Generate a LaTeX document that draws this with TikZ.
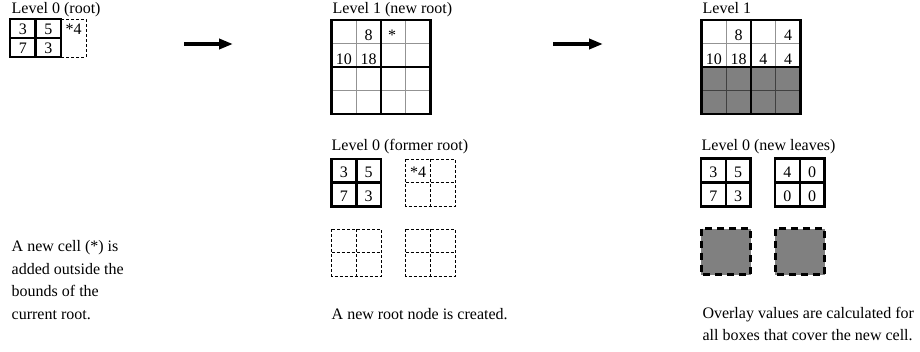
\documentclass[tikz,border=0pt]{standalone}
\usepackage{fontspec}
\setmainfont{Liberation Serif}
\usetikzlibrary{arrows.meta}
\begin{document}
\begin{tikzpicture}[x=1pt,y=-1pt,
  txt/.style={anchor=base west,inner sep=0pt,font=\fontsize{16}{18}\selectfont},
  num/.style={anchor=base,inner sep=0pt,font=\fontsize{16}{18}\selectfont},
  heavy/.style={line width=2.8pt},
  medium/.style={line width=2.3pt},
  fine/.style={line width=0.9pt,gray!85},
  finedark/.style={line width=0.9pt,black!75},
  dashcell/.style={line width=0.9pt,dash pattern=on 3pt off 2pt},
  bigdash/.style={line width=3pt,dash pattern=on 7pt off 5pt,fill=gray},
  stepto/.style={line width=4pt,-{Triangle[length=14pt,width=10pt]}}]
\useasboundingbox (0,0) rectangle (920,351);

% ---------- panel 1: level 0 root ----------
\node[txt] (t0) at (11.5,13.5) {Level 0 (root)};
\draw[dashcell] (61,19) -- (86,19) -- (86,57) -- (61,57);
\draw[heavy] (10,19) rectangle (61,57);
\draw[heavy] (35.5,19) -- (35.5,57);
\draw[heavy] (10,38) -- (61,38);
\node[num] (a1) at (22.75,34.5) {3};
\node[num] (a2) at (48.25,34.5) {5};
\node[num] (a3) at (22.75,53.5) {7};
\node[num] (a4) at (48.25,53.5) {3};
\node[num] (a5) at (73.5,34.5) {*4};

\node[txt] (c1) at (11.5,251.7) {A new cell (*) is};
\node[txt] (c2) at (11.5,274.2) {added outside the};
\node[txt] (c3) at (11.5,296.7) {bounds of the};
\node[txt] (c4) at (11.5,319.2) {current root.};

% ---------- arrows ----------
\coordinate (p1) at (184,44);
\coordinate (q1) at (233,44);
\coordinate (p2) at (553,44);
\coordinate (q2) at (603,44);
\draw[stepto] (p1) -- (q1);
\draw[stepto] (p2) -- (q2);

% ---------- panel 2: new root ----------
\node[txt] (t1) at (332.5,13.5) {Level 1 (new root)};
\foreach \x in {356.25,405.75} \draw[fine] (\x,20) -- (\x,114);
\foreach \y in {43.5,90.5} \draw[fine] (331.5,\y) -- (430.5,\y);
\draw[heavy] (331.5,20) rectangle (430.5,114);
\draw[heavy] (381,20) -- (381,114);
\draw[heavy] (331.5,67) -- (430.5,67);
\node[num] (b1) at (368.6,40.5) {8};
\node[num] (b2) at (392,40.5) {*};
\node[num] (b3) at (343.9,64) {10};
\node[num] (b4) at (368.6,64) {18};

\node[txt] (t2) at (331.5,150) {Level 0 (former root)};
\draw[heavy] (331.5,159) rectangle (381,206.5);
\draw[heavy] (356.25,159) -- (356.25,206.5);
\draw[heavy] (331.5,182.75) -- (381,182.75);
\node[num] (d1) at (343.9,177.5) {3};
\node[num] (d2) at (368.6,177.5) {5};
\node[num] (d3) at (343.9,201) {7};
\node[num] (d4) at (368.6,201) {3};
\foreach \ox/\oy in {405.5/159, 331.5/229, 405.5/229}{
  \draw[dashcell] (\ox,\oy) rectangle ++(49.5,47);
  \draw[dashcell] (\ox+24.75,\oy) -- ++(0,47);
  \draw[dashcell] (\ox,\oy+23.5) -- ++(49.5,0);
}
\node[num] (d5) at (418,177.5) {*4};

\node[txt] (c5) at (331.5,319.2) {A new root node is created.};

% ---------- panel 3: overlay values ----------
\node[txt] (t3) at (702.5,13.5) {Level 1};
\fill[gray] (701.5,67) rectangle (800.5,114);
\foreach \x in {726.25,775.75} \draw[fine] (\x,20) -- (\x,67);
\foreach \x in {726.25,775.75} \draw[finedark] (\x,67) -- (\x,114);
\draw[fine] (701.5,43.5) -- (800.5,43.5);
\draw[finedark] (701.5,90.5) -- (800.5,90.5);
\draw[heavy] (701.5,20) rectangle (800.5,114);
\draw[heavy] (751,20) -- (751,114);
\draw[heavy] (701.5,67) -- (800.5,67);
\node[num] (e1) at (738.6,40.5) {8};
\node[num] (e2) at (788.1,40.5) {4};
\node[num] (e3) at (713.9,64) {10};
\node[num] (e4) at (738.6,64) {18};
\node[num] (e5) at (763.4,64) {4};
\node[num] (e6) at (788.1,64) {4};

\node[txt] (t4) at (701.5,150) {Level 0 (new leaves)};
\foreach \ox in {701,775}{
  \draw[medium] (\ox,158.5) rectangle ++(49.5,48);
  \draw[medium] (\ox+24.75,158.5) -- ++(0,48);
  \draw[medium] (\ox,182.5) -- ++(49.5,0);
}
\node[num] (f1) at (713.4,177.5) {3};
\node[num] (f2) at (738.1,177.5) {5};
\node[num] (f3) at (713.4,201) {7};
\node[num] (f4) at (738.1,201) {3};
\node[num] (g1) at (787.4,177.5) {4};
\node[num] (g2) at (812.1,177.5) {0};
\node[num] (g3) at (787.4,201) {0};
\node[num] (g4) at (812.1,201) {0};
\draw[bigdash] (701,228.5) rectangle (750.5,274.5);
\draw[bigdash] (775,228.5) rectangle (824.5,274.5);

\node[txt] (c6) at (702.3,318.3) {Overlay values are calculated for};
\node[txt] (c7) at (702.3,340.7) {all boxes that cover the new cell.};
\end{tikzpicture}
\end{document}
